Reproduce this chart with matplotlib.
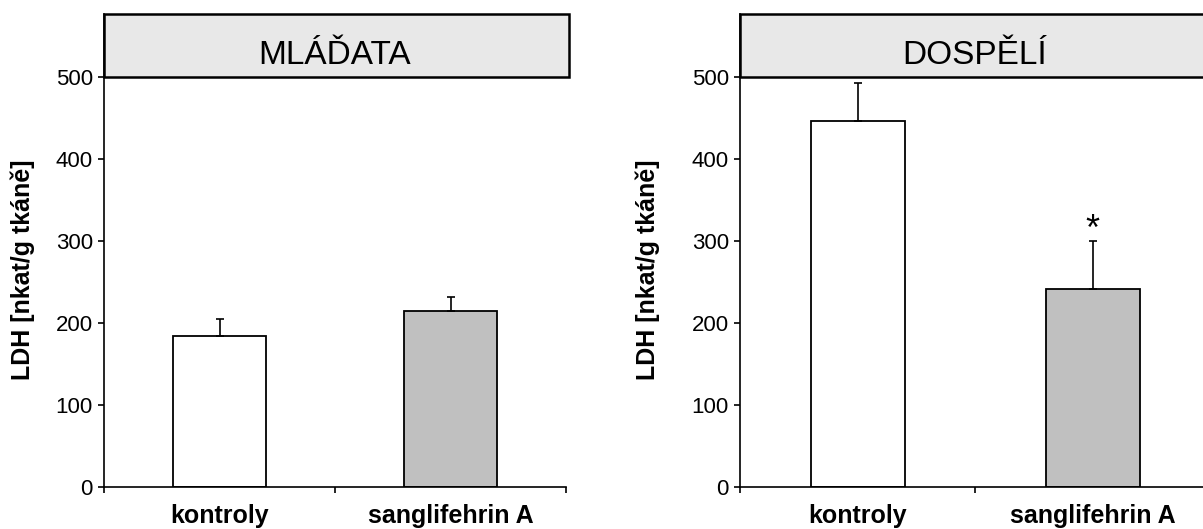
import matplotlib
matplotlib.use("Agg")
import matplotlib.pyplot as plt
from matplotlib.patches import Rectangle
import matplotlib.transforms as mtransforms

plt.rcParams['font.family'] = ['Liberation Sans', 'DejaVu Sans']

categories = ["kontroly", "sanglifehrin A"]
titles = ["MLÁĎATA", "DOSPĚLÍ"]
young_means = [184, 215]
young_err = [21, 17]
adult_means = [446, 241]
adult_err = [47, 59]
significance = ["", "*"]
yticks = [0, 100, 200, 300, 400, 500]
bar_colors = ["#ffffff", "#c0c0c0"]
ylabel = "LDH [nkat/g tkáně]"

W, H = 1203, 529
fig = plt.figure(figsize=(W / 100, H / 100), dpi=100)
fig.patch.set_facecolor("white")

YTOP = 577
panels = [
    dict(left=104, right=566, box_right=569, means=young_means, err=young_err,
         title=titles[0], ylab_x=23, sig=False),
    dict(left=740, right=1210, box_right=1260, means=adult_means, err=adult_err,
         title=titles[1], ylab_x=648, sig=True),
]
ax_bottom_px, ax_top_px = 487, 14

for p in panels:
    ax = fig.add_axes([p['left'] / W, (H - ax_bottom_px) / H,
                       (p['right'] - p['left']) / W, (ax_bottom_px - ax_top_px) / H])
    ax.set_xlim(0, 2)
    ax.set_ylim(0, YTOP)
    x = [0.5, 1.5]
    ax.bar(x, p['means'], width=0.4, color=bar_colors, edgecolor="black",
           linewidth=1.3, zorder=2)
    ax.errorbar(x, p['means'], yerr=[[0, 0], p['err']], fmt='none',
                ecolor='black', elinewidth=1.2, capsize=3, capthick=1.2, zorder=3)
    if p['sig']:
        for xi, m, e, s in zip(x, p['means'], p['err'], significance):
            if s:
                ax.text(xi, m + e - 8, s, ha='center', va='bottom', fontsize=26)

    # title box
    trans = mtransforms.blended_transform_factory(ax.transAxes, ax.transData)
    bw = (p['box_right'] - p['left']) / (p['right'] - p['left'])
    ax.add_patch(Rectangle((0, 500), bw, YTOP - 500, transform=trans,
                           facecolor="#e8e8e8", edgecolor="black", linewidth=1.8,
                           clip_on=False, zorder=4))
    ax.text(0.5, 516, p['title'], transform=trans, ha='center', va='baseline',
            fontsize=24, zorder=5)

    for side in ['top', 'right']:
        ax.spines[side].set_visible(False)
    for side in ['left', 'bottom']:
        ax.spines[side].set_linewidth(1.2)
    ax.set_yticks(yticks)
    ax.set_yticklabels([str(v) for v in yticks], fontsize=16)
    ax.tick_params(axis='y', direction='out', length=4, width=1.2, pad=4)
    ax.set_xticks([0, 1, 2])
    ax.set_xticklabels([])
    ax.set_xticks(x, minor=True)
    ax.set_xticklabels(categories, minor=True, fontsize=18, fontweight='bold')
    ax.tick_params(axis='x', which='major', direction='out', length=4, width=1.2)
    ax.tick_params(axis='x', which='minor', length=0, pad=12)

    fig.text(p['ylab_x'] / W, (H - 270) / H, ylabel, rotation=90, ha='center',
             va='center', fontsize=18, fontweight='bold')

fig.savefig("out.png", dpi=100, facecolor="white")
